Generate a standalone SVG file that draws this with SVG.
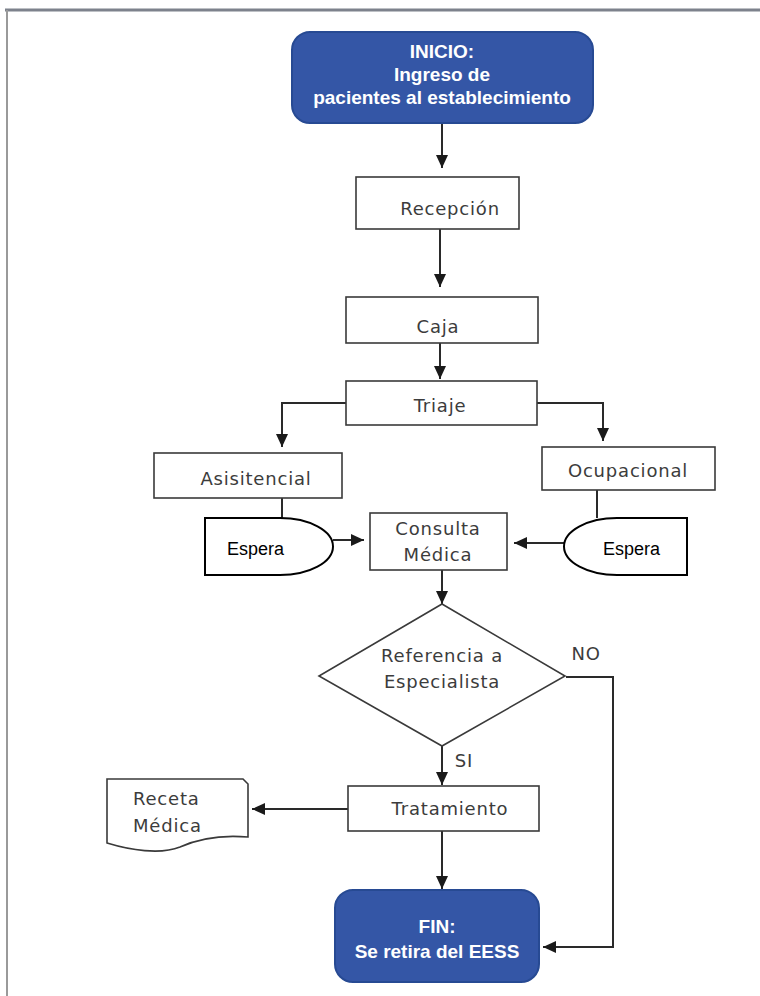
<svg xmlns="http://www.w3.org/2000/svg" width="760" height="996" viewBox="0 0 760 996">
<style>
.box{fill:#fff;stroke:#3a3a3a;stroke-width:1.6}
.term{fill:#3456a6;stroke:#274a93;stroke-width:2}
.t{font-family:"DejaVu Sans",sans-serif;font-size:18px;fill:#3c3c3c;text-anchor:middle;letter-spacing:0.8px}
.ts{font-family:"DejaVu Sans",sans-serif;font-size:18px;fill:#3c3c3c;text-anchor:start;letter-spacing:0.8px}
.tw{font-family:"Liberation Sans",Arial,sans-serif;font-size:19px;font-weight:bold;fill:#fff;text-anchor:middle}
.te{font-family:"Liberation Sans",Arial,sans-serif;font-size:18px;fill:#000}
.c{fill:none;stroke:#2a2a2a;stroke-width:2}
.esp{fill:#fff;stroke:#000;stroke-width:2}
</style>
<defs>
<marker id="ah" markerUnits="userSpaceOnUse" markerWidth="14" markerHeight="12" refX="13" refY="6" orient="auto">
<path d="M0,0 L13,6 L0,12 Z" fill="#1a1a1a"/>
</marker>
</defs>
<rect width="760" height="996" fill="#fff"/>
<g id="frame">
<line x1="5" y1="10" x2="760" y2="10" stroke="#7d828c" stroke-width="3"/>
<line x1="7" y1="10" x2="7" y2="996" stroke="#9a9a9a" stroke-width="2"/>
</g>
<g id="connectors">
<line class="c" x1="442" y1="123" x2="442" y2="168" marker-end="url(#ah)"/>
<line class="c" x1="440" y1="229" x2="440" y2="287" marker-end="url(#ah)"/>
<line class="c" x1="440" y1="343" x2="440" y2="379" marker-end="url(#ah)"/>
<path class="c" d="M346,403 H282 V447" marker-end="url(#ah)"/>
<path class="c" d="M537,403 H603 V441" marker-end="url(#ah)"/>
<line class="c" x1="282" y1="498" x2="282" y2="518"/>
<line class="c" x1="597" y1="490" x2="597" y2="518"/>
<line class="c" x1="333" y1="540" x2="364" y2="540" marker-end="url(#ah)"/>
<line class="c" x1="564" y1="543" x2="514" y2="543" marker-end="url(#ah)"/>
<line class="c" x1="442" y1="570" x2="442" y2="604" marker-end="url(#ah)"/>
<line class="c" x1="442" y1="746" x2="442" y2="785" marker-end="url(#ah)"/>
<path class="c" d="M566,677 H613 V947 H543" marker-end="url(#ah)"/>
<line class="c" x1="348" y1="809" x2="252" y2="809" marker-end="url(#ah)"/>
<line class="c" x1="442" y1="831" x2="442" y2="889" marker-end="url(#ah)"/>
<text class="t" x="586" y="660">NO</text>
<text class="t" x="464" y="767">SI</text>
</g>
<g id="inicio">
<rect class="term" x="292" y="32" width="301" height="91" rx="18"/>
<text class="tw" x="442" y="58">INICIO:</text>
<text class="tw" x="442" y="81">Ingreso de</text>
<text class="tw" x="442" y="104">pacientes al establecimiento</text>
</g>
<g id="recepcion">
<rect class="box" x="356" y="177" width="163" height="52"/>
<text class="t" x="450" y="215">Recepción</text>
</g>
<g id="caja">
<rect class="box" x="346" y="297" width="192" height="46"/>
<text class="t" x="438" y="333">Caja</text>
</g>
<g id="triaje">
<rect class="box" x="346" y="381" width="191" height="44"/>
<text class="t" x="440" y="412">Triaje</text>
</g>
<g id="asisitencial">
<rect class="box" x="154" y="453" width="188" height="45"/>
<text class="t" x="256" y="485">Asisitencial</text>
</g>
<g id="ocupacional">
<rect class="box" x="542" y="447" width="173" height="43"/>
<text class="t" x="628" y="477">Ocupacional</text>
</g>
<g id="espera-izq">
<path class="esp" d="M205,518 H280 A53,28.5 0 0 1 280,575 H205 Z"/>
<text class="te" x="227" y="555">Espera</text>
</g>
<g id="espera-der">
<path class="esp" d="M687,518 H617 A53,28.5 0 0 0 617,575 H687 Z"/>
<text class="te" x="603" y="555">Espera</text>
</g>
<g id="consulta">
<rect class="box" x="370" y="513" width="137" height="57"/>
<text class="t" x="438" y="535">Consulta</text>
<text class="t" x="438" y="561">Médica</text>
</g>
<g id="referencia">
<path class="box" d="M442,604 L565,676 L442,746 L319,676 Z"/>
<text class="t" x="442" y="662">Referencia a</text>
<text class="t" x="442" y="688">Especialista</text>
</g>
<g id="tratamiento">
<rect class="box" x="348" y="786" width="191" height="45"/>
<text class="t" x="450" y="815">Tratamiento</text>
</g>
<g id="receta">
<path class="box" d="M107,779 H243 L248,784 V837 C225,835 200,838 180,847 C160,855 130,850 107,843 Z" stroke-width="1.3"/>
<text class="ts" x="133" y="805">Receta</text>
<text class="ts" x="133" y="832">Médica</text>
</g>
<g id="fin">
<rect class="term" x="335" y="890" width="204" height="92" rx="18"/>
<text class="tw" x="437" y="933">FIN:</text>
<text class="tw" x="437" y="958">Se retira del EESS</text>
</g>
</svg>
